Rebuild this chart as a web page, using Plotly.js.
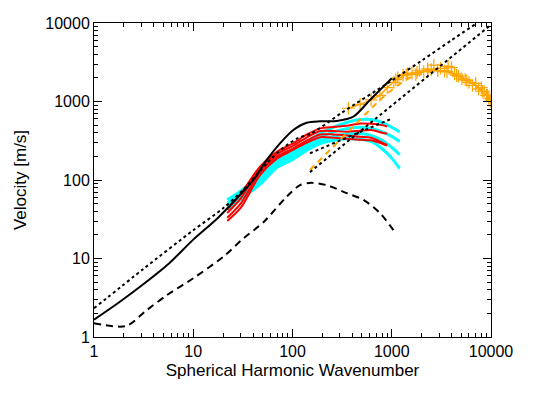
<!DOCTYPE html>
<html>
<head>
<meta charset="utf-8">
<script src="https://cdn.plot.ly/plotly-3.0.1.min.js"></script>
<style>html,body{margin:0;padding:0;background:#fff;}#chart{width:533px;height:393px;}</style>
</head>
<body>
<div id="chart"></div>
<script>
// ---- data ----
var solidX = [1, 1.78, 3.16, 5.62, 10, 17.8, 31.6, 40.3, 55, 74.8, 102, 139, 189, 279, 410, 603, 794, 1000];
var solidY = [1.66, 2.75, 4.73, 8.51, 17.4, 33.1, 70.8, 100, 180, 293, 434, 537, 560, 565, 640, 1047, 1479, 1977];

var dot1X = [1, 3.16, 10, 20, 31.6, 55, 79, 112, 156, 316, 960, 2000, 4020, 7240];
var dot1Y = [2.32, 7.4, 22.9, 43.7, 74, 163, 251, 339, 394, 724, 1786, 3311, 6067, 10000];
var dot2X = [150, 10000];
var dot2Y = [126, 9500];
var dot3X = [150, 960];
var dot3Y = [219, 593];

var dashX = [1, 2.1, 3.4, 5.4, 10, 20, 32, 51, 87, 119, 156, 221, 352, 517, 759, 1040];
var dashY = [1.5, 1.38, 2.2, 3.4, 5.6, 10.5, 18, 29, 61, 86, 92, 86, 68, 56, 38, 23];

var cyanX = [22, 30, 47, 70, 100, 140, 190, 260, 350, 480, 620, 800, 1000, 1200];
var cyan1 = [56, 72, 118, 185, 235, 310, 390, 470, 540, 590, 590, 540, 470, 410];
var cyan2 = [51, 66, 108, 172, 215, 285, 350, 410, 450, 470, 455, 410, 360, 310];
var cyan3 = [46, 61, 98, 158, 200, 260, 315, 360, 385, 390, 370, 320, 260, 210];
var cyan4 = [42, 57, 88, 145, 182, 240, 290, 320, 335, 330, 310, 250, 190, 140];

var redX = [22, 30, 47, 70, 100, 140, 190, 260, 350, 480, 620, 800, 900];
var red1 = [42, 66, 148, 230, 290, 380, 455, 475, 490, 525, 520, 500, 480];
var red2 = [38, 58, 138, 215, 270, 350, 420, 420, 412, 425, 433, 400, 390];
var red3 = [33, 50, 126, 200, 250, 320, 380, 380, 370, 355, 345, 300, 280];
var red4 = [30, 44, 115, 188, 240, 300, 350, 345, 335, 325, 320, 290, 275];

var orLineX = [365, 480, 620, 760, 900, 1100, 1400, 1800, 2300, 2900, 3600, 4500, 5700, 7000, 8200, 9200, 10000];
var orLineY = [820, 920, 1050, 1200, 1500, 1900, 2200, 2350, 2450, 2480, 2400, 2150, 1850, 1600, 1350, 1200, 1050];
var orDashX = [150, 250, 400, 600, 760, 1000, 1400, 2000, 2800, 3800, 5000, 6500, 8000, 10000];
var orDashY = [134, 256, 466, 780, 1047, 1400, 1900, 2300, 2450, 2350, 2050, 1700, 1400, 1100];
var orPtsX = [1050, 1150, 1300, 1450, 1600, 1750, 1900, 2100, 2300, 2500, 2650, 2900, 3100, 3400, 3700, 4000, 4300, 4700, 5100, 5500, 6000, 6500, 7000, 7500, 8000, 8500, 9000, 9500, 9900];
var orPtsY = [1750, 2000, 2150, 2250, 2300, 2200, 2500, 2400, 2600, 2550, 2900, 2500, 2650, 2450, 2800, 2700, 2250, 2100, 1950, 1900, 1750, 1600, 1700, 1450, 1500, 1350, 1200, 1100, 1000];

var tickVals = [1, 10, 100, 1000, 10000];
var tickText = ['1', '10', '100', '1000', '10000'];
var minorVals = [];
[1, 10, 100, 1000].forEach(function (d) { for (var k = 2; k <= 9; k++) minorVals.push(k * d); });

// ---- traces ----
function line(x, y, color, width, dash, smooth) {
  return {x: x, y: y, type: 'scatter', mode: 'lines', hoverinfo: 'skip',
          line: {color: color, width: width, dash: dash || 'solid',
                 shape: smooth ? 'spline' : 'linear', smoothing: smooth || 0}};
}
var traces = [];
[cyan4, cyan3, cyan2, cyan1].forEach(function (c) { traces.push(line(cyanX, c, '#00FFFF', 3, 'solid', 0.8)); });
[red4, red3, red2, red1].forEach(function (r) { traces.push(line(redX, r, '#FF0000', 2, 'solid', 0.8)); });
traces.push(line(orDashX, orDashY, '#FFA500', 2, '6px,5px', 0.6));
traces.push({x: orLineX, y: orLineY, type: 'scatter', mode: 'lines+markers', hoverinfo: 'skip',
  line: {color: '#FFA500', width: 1.5},
  marker: {symbol: 'cross-thin-open', size: 9, color: '#FFA500', line: {color: '#FFA500', width: 1.2}}});
traces.push({x: orPtsX, y: orPtsY, type: 'scatter', mode: 'markers', hoverinfo: 'skip',
  marker: {symbol: 'cross-thin-open', size: 9, color: '#FFA500', line: {color: '#FFA500', width: 1.2}}});
traces.push(line(dot1X, dot1Y, '#000', 2, 'dot', 0.8));
traces.push(line(dot2X, dot2Y, '#000', 2, 'dot'));
traces.push(line(dot3X, dot3Y, '#000', 2, 'dot'));
traces.push(line(solidX, solidY, '#000', 2, 'solid', 0.8));
traces.push(line(dashX, dashY, '#000', 2, '7px,5px', 0.8));

function axis(titleText, standoff) {
  return {
    type: 'log', range: [0, 4], autorange: false,
    tickmode: 'array', tickvals: tickVals, ticktext: tickText,
    ticks: 'inside', ticklen: 8, tickwidth: 1, tickcolor: '#000',
    minor: {tickmode: 'array', tickvals: minorVals, ticks: 'inside', ticklen: 4, tickwidth: 1, tickcolor: '#000', showgrid: false},
    showline: true, linecolor: '#000', linewidth: 1, mirror: 'allticks',
    showgrid: false, zeroline: false,
    tickfont: {family: 'Liberation Sans, Arial, sans-serif', size: 16, color: '#000'},
    title: {text: titleText, standoff: standoff, font: {family: 'Liberation Sans, Arial, sans-serif', size: 17, color: '#000'}}
  };
}
var layout = {
  width: 533, height: 393,
  margin: {l: 94, r: 42, t: 23, b: 56, pad: 0},
  paper_bgcolor: '#fff', plot_bgcolor: '#fff',
  showlegend: false,
  xaxis: axis('Spherical Harmonic Wavenumber', 4),
  yaxis: axis('Velocity [m/s]', 14)
};
Plotly.newPlot('chart', traces, layout, {staticPlot: true, displayModeBar: false});
</script>
</body>
</html>
